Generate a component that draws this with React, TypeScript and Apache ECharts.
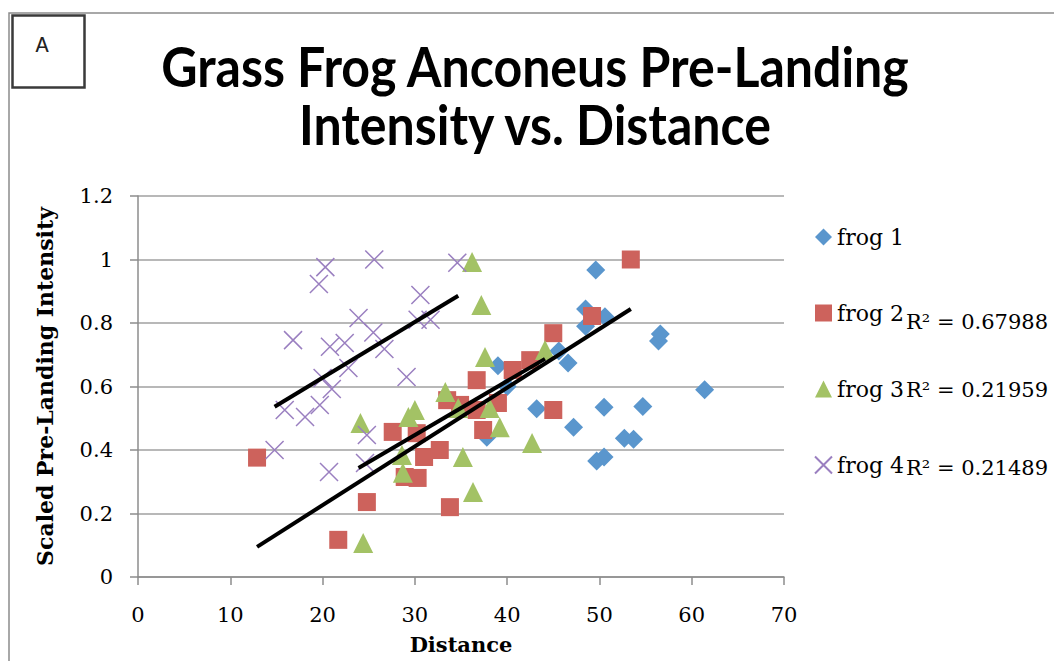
import React, { useEffect, useRef } from "react";
import * as echarts from "echarts";

const seriesNames = ["frog 1", "frog 2", "frog 3", "frog 4"];

const frog1Points: [number, number][] = [
  [37.8, 0.44], [39.0, 0.665], [40.0, 0.6], [43.2, 0.53], [45.6, 0.712],
  [46.6, 0.674], [47.2, 0.472], [48.5, 0.844], [48.5, 0.79], [49.6, 0.967],
  [49.7, 0.365], [50.5, 0.378], [50.5, 0.535], [50.6, 0.82], [52.7, 0.437],
  [53.7, 0.434], [54.7, 0.537], [56.4, 0.743], [56.6, 0.765], [61.4, 0.59],
];

const frog2Points: [number, number][] = [
  [12.9, 0.376], [21.7, 0.117], [24.8, 0.236], [27.6, 0.457], [28.9, 0.315],
  [30.2, 0.453], [30.3, 0.312], [31.0, 0.378], [32.7, 0.4], [33.5, 0.557],
  [33.8, 0.22], [34.9, 0.542], [36.7, 0.526], [36.7, 0.62], [37.4, 0.463],
  [39.0, 0.548], [40.6, 0.652], [42.5, 0.683], [45.0, 0.768], [45.0, 0.526],
  [49.2, 0.822], [53.4, 1.0],
];

const frog3Points: [number, number][] = [
  [24.1, 0.485], [24.4, 0.107], [28.6, 0.384], [28.7, 0.328], [29.3, 0.504],
  [30.0, 0.526], [33.3, 0.583], [34.7, 0.532], [35.2, 0.378], [36.2, 0.992],
  [36.3, 0.268], [37.2, 0.857], [37.6, 0.693], [38.1, 0.532], [39.2, 0.472],
  [42.7, 0.422], [44.1, 0.715],
];

const frog4Points: [number, number][] = [
  [14.8, 0.4], [15.9, 0.526], [16.8, 0.746], [18.1, 0.504], [19.6, 0.923],
  [19.7, 0.542], [20.0, 0.627], [20.3, 0.976], [20.7, 0.331], [20.8, 0.725],
  [21.0, 0.592], [22.4, 0.737], [22.8, 0.658], [23.9, 0.816], [24.6, 0.359],
  [24.8, 0.447], [25.5, 0.77], [25.6, 1.0], [26.7, 0.718], [29.1, 0.63],
  [30.3, 0.81], [30.6, 0.888], [31.7, 0.81], [34.6, 0.99],
];

const frog2Trend: [number, number][] = [[12.9, 0.095], [53.4, 0.844]];
const frog3Trend: [number, number][] = [[23.9, 0.343], [44.1, 0.687]];
const frog4Trend: [number, number][] = [[14.8, 0.536], [34.7, 0.886]];

const rSquaredLabels = ["R² = 0.67988", "R² = 0.21959", "R² = 0.21489"];

const titleLines = ["Grass Frog Anconeus Pre-Landing", "Intensity vs. Distance"];

const COLORS = ["#5A96CD", "#CD625C", "#A3C265", "#9A7FC0"];
const SERIF = "'DejaVu Serif', serif";

export default function App() {
  const ref = useRef<HTMLDivElement>(null);

  useEffect(() => {
    document.body.style.margin = "0";
    const chart = echarts.init(ref.current!, null, { renderer: "svg" });

    const trendSeries = (data: [number, number][]) => ({
      type: "line",
      data,
      symbol: "none",
      silent: true,
      z: 5,
      lineStyle: { color: "#000", width: 4 },
    });

    chart.setOption({
      animation: false,
      backgroundColor: "#fff",
      grid: { left: 138, right: 270, top: 196, bottom: 84 },
      xAxis: {
        type: "value",
        min: 0,
        max: 70,
        interval: 10,
        name: "Distance",
        nameLocation: "middle",
        nameGap: 57,
        nameTextStyle: { fontFamily: SERIF, fontWeight: "bold", fontSize: 21, color: "#000" },
        axisLine: { show: true, lineStyle: { color: "#8c8c8c", width: 1.5 } },
        axisTick: { show: true, length: 8, lineStyle: { color: "#8c8c8c", width: 1.5 } },
        axisLabel: { margin: 27, fontFamily: SERIF, fontSize: 21, color: "#000" },
        splitLine: { show: false },
      },
      yAxis: {
        type: "value",
        min: 0,
        max: 1.2,
        interval: 0.2,
        name: "Scaled Pre-Landing Intensity",
        nameLocation: "middle",
        nameGap: 82,
        nameTextStyle: { fontFamily: SERIF, fontWeight: "bold", fontSize: 22, color: "#000" },
        axisLine: { show: true, lineStyle: { color: "#8c8c8c", width: 1.5 } },
        axisTick: { show: true, length: 8, lineStyle: { color: "#8c8c8c", width: 1.5 } },
        axisLabel: { margin: 25, fontFamily: SERIF, fontSize: 21, color: "#000" },
        splitLine: { show: true, lineStyle: { color: "#a0a0a0", width: 1.5 } },
      },
      legend: {
        data: seriesNames,
        orient: "vertical",
        left: 809,
        top: 221,
        itemGap: 54,
        itemWidth: 17,
        itemHeight: 17,
        textStyle: { fontFamily: SERIF, fontSize: 22, color: "#000" },
      },
      graphic: [
        {
          type: "rect",
          shape: { x: 9, y: 13, width: 1200, height: 800 },
          style: { fill: "transparent", stroke: "#8c8c8c", lineWidth: 1.5 },
          silent: true,
          z: -10,
        },
        {
          type: "rect",
          shape: { x: 12.5, y: 15.5, width: 72, height: 72 },
          style: { fill: "#fff", stroke: "#3a3a3a", lineWidth: 2.5 },
          silent: true,
        },
        {
          type: "text",
          x: 42,
          y: 46,
          style: {
            text: "A",
            fontFamily: "'Liberation Mono', monospace",
            fontSize: 22,
            fill: "#222",
            textAlign: "center",
            textVerticalAlign: "middle",
          },
        },
        ...titleLines.map((t, i) => ({
          type: "text",
          x: 535,
          y: 66 + i * 58,
          scaleX: 0.91,
          style: {
            text: t,
            fontFamily: "Lato, sans-serif",
            fontWeight: "bold",
            fontSize: 55,
            fill: "#000",
            textAlign: "center",
            textVerticalAlign: "middle",
          },
        })),
        ...rSquaredLabels.map((t, i) => ({
          type: "text",
          x: 906,
          y: [322, 390, 468][i],
          style: {
            text: t,
            fontFamily: SERIF,
            fontSize: 21,
            fill: "#000",
            textAlign: "left",
            textVerticalAlign: "middle",
          },
        })),
      ],
      series: [
        {
          name: "frog 1",
          type: "scatter",
          data: frog1Points,
          symbol: "diamond",
          symbolSize: 19,
          itemStyle: { color: COLORS[0], opacity: 1 },
        },
        {
          name: "frog 2",
          type: "scatter",
          data: frog2Points,
          symbol: "rect",
          symbolSize: 18,
          itemStyle: { color: COLORS[1], opacity: 1 },
        },
        {
          name: "frog 3",
          type: "scatter",
          data: frog3Points,
          symbol: "triangle",
          symbolSize: 20,
          itemStyle: { color: COLORS[2], opacity: 1 },
        },
        {
          name: "frog 4",
          type: "scatter",
          data: frog4Points,
          symbol: "path://M0,0L10,10M10,0L0,10",
          symbolSize: 18,
          itemStyle: { color: COLORS[3], borderColor: COLORS[3], borderWidth: 1.5, opacity: 1 },
        },
        trendSeries(frog2Trend),
        trendSeries(frog3Trend),
        trendSeries(frog4Trend),
      ],
    });

    return () => chart.dispose();
  }, []);

  return <div ref={ref} style={{ width: 1054, height: 661 }} />;
}
